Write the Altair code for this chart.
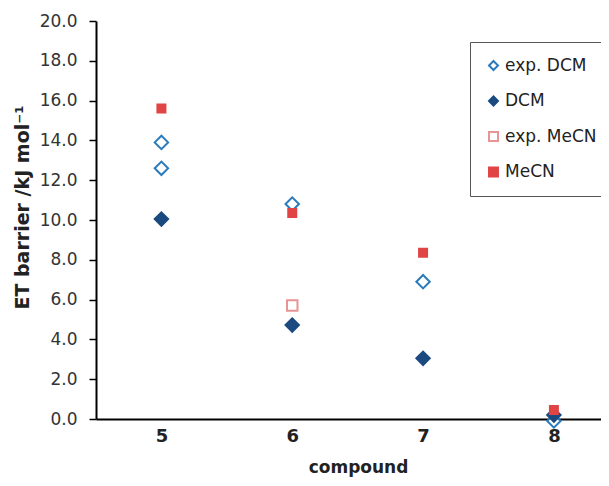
import altair as alt
import pandas as pd

series_names = ["exp. DCM", "DCM", "exp. MeCN", "MeCN"]
exp_dcm_x = [5, 5, 6, 7, 8]
exp_dcm_y = [13.9, 12.6, 10.8, 6.9, -0.1]
dcm_x = [5, 6, 7, 8]
dcm_y = [10.05, 4.72, 3.05, 0.2]
exp_mecn_x = [6]
exp_mecn_y = [5.7]
mecn_x = [5, 6, 7, 8]
mecn_y = [15.6, 10.35, 8.35, 0.45]

stroke_colors = ["#2b7bbb", "#1b4a80", "#e69494", "#e04444"]
fill_colors = ["white", "#1b4a80", "white", "#e04444"]
shapes = ["diamond", "diamond", "square", "square"]

rows = []
for name, xs, ys in zip(series_names,
                        [exp_dcm_x, dcm_x, exp_mecn_x, mecn_x],
                        [exp_dcm_y, dcm_y, exp_mecn_y, mecn_y]):
    for x, y in zip(xs, ys):
        rows.append({"series": name, "compound": x, "value": y})
df = pd.DataFrame(rows)

font = "DejaVu Sans"

x_enc = alt.X("compound:Q",
              scale=alt.Scale(domain=[4.5, 8.36], nice=False, zero=False),
              axis=alt.Axis(title="compound", values=[5, 6, 7, 8], format="d",
                            ticks=False, grid=False, domainColor="black", domainWidth=2,
                            labelFontSize=18, labelFontWeight="bold", labelColor="#222",
                            labelPadding=8, titleFontSize=17, titleFontWeight="bold",
                            titleColor="#222", titlePadding=14, titleX=262,
                            labelFont=font, titleFont=font))
y_enc = alt.Y("value:Q",
              scale=alt.Scale(domain=[0, 20], nice=False),
              axis=alt.Axis(title="ET barrier /kJ mol\u207b\u00b9", values=list(range(0, 21, 2)),
                            format=".1f", grid=False, domainColor="black", domainWidth=2,
                            tickColor="black", tickWidth=1.5, tickSize=7,
                            labelFontSize=17, labelColor="#333", labelPadding=12,
                            titleFontSize=19, titleFontWeight="bold", titleColor="#222",
                            titlePadding=7, titleY=186, labelFont=font, titleFont=font))
common = dict(
    x=x_enc, y=y_enc,
    stroke=alt.Stroke("series:N", scale=alt.Scale(domain=series_names, range=stroke_colors),
                      legend=alt.Legend(title=None)),
    fill=alt.Fill("series:N", scale=alt.Scale(domain=series_names, range=fill_colors),
                  legend=alt.Legend(title=None)),
    shape=alt.Shape("series:N", scale=alt.Scale(domain=series_names, range=shapes),
                    legend=alt.Legend(title=None)),
)

base = alt.Chart(df)
diamonds = base.transform_filter(
    alt.FieldOneOfPredicate(field="series", oneOf=["exp. DCM", "DCM"])
).mark_point(filled=False, strokeWidth=2, opacity=1, size=180).encode(**common)
open_sq = base.transform_filter(
    alt.FieldEqualPredicate(field="series", equal="exp. MeCN")
).mark_point(filled=False, strokeWidth=2, opacity=1, size=110).encode(**common)
filled_sq = base.transform_filter(
    alt.FieldEqualPredicate(field="series", equal="MeCN")
).mark_point(filled=False, strokeWidth=2, opacity=1, size=64).encode(**common)

chart = alt.layer(diamonds, open_sq, filled_sq).properties(
    width=505, height=398,
    autosize=alt.AutoSizeParams(type="none"),
    padding={"left": 88, "top": 13, "right": 0, "bottom": 59},
).configure_view(stroke=None).configure_legend(
    orient="none", legendX=374, legendY=21,
    strokeColor="#555", strokeWidth=1, padding=15,
    labelFontSize=17, labelFont=font, labelColor="#222", labelLimit=200,
    rowPadding=17.5, labelOffset=3, symbolStrokeWidth=2, symbolSize=80,
)

chart.save("out.html", embed_options={"renderer": "svg", "actions": False})
